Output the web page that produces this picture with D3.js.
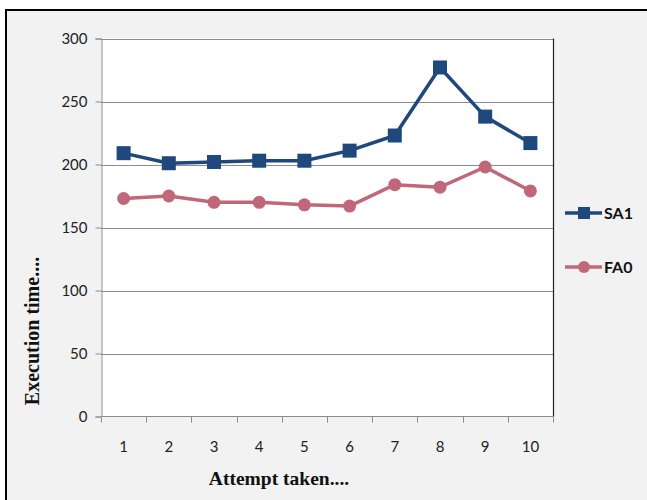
<!DOCTYPE html>
<html>
<head>
<meta charset="utf-8">
<script src="https://cdn.jsdelivr.net/npm/d3@7/dist/d3.min.js"></script>
<style>
  html, body { margin: 0; padding: 0; background: #ffffff; }
  svg { display: block; }
</style>
</head>
<body>
<svg id="chart" width="647" height="500"></svg>
<script>
// Attempt numbers and the execution time of each algorithm per attempt
const attempts = [1, 2, 3, 4, 5, 6, 7, 8, 9, 10];
const sa1 = [209, 201, 202, 203, 203, 211, 223, 277, 238, 217];
const fa0 = [173, 175, 170, 170, 168, 167, 184, 182, 198, 179];
const yTicks = [0, 50, 100, 150, 200, 250, 300];
const seriesNames = ["SA1", "FA0"];

const series = [
  { name: seriesNames[0], values: sa1, color: "#1f497d", marker: "square" },
  { name: seriesNames[1], values: fa0, color: "#c0687a", marker: "circle" }
];

const svg = d3.select("#chart");

// Chart frame
svg.append("rect")
  .attr("x", 6).attr("y", 10)
  .attr("width", 700).attr("height", 560)
  .attr("fill", "#f2f2f2")
  .attr("stroke", "#000").attr("stroke-width", 2);

const plot = { left: 101, right: 553, top: 38.5, bottom: 416.5 };

const x = d3.scaleBand()
  .domain(attempts)
  .range([plot.left, plot.right]);

const y = d3.scaleLinear()
  .domain([0, 300])
  .range([plot.bottom, plot.top]);

// Plot area background
svg.append("rect")
  .attr("x", plot.left).attr("y", plot.top)
  .attr("width", plot.right - plot.left)
  .attr("height", plot.bottom - plot.top)
  .attr("fill", "#ffffff");

// Horizontal gridlines
svg.append("g")
  .selectAll("line")
  .data(yTicks.filter(t => t > 0))
  .join("line")
  .attr("x1", plot.left).attr("x2", plot.right)
  .attr("y1", d => Math.round(y(d)) + 0.5)
  .attr("y2", d => Math.round(y(d)) + 0.5)
  .attr("stroke", "#8c8c8c").attr("stroke-width", 1);

// Plot area right border
svg.append("line")
  .attr("x1", plot.right + 0.5).attr("x2", plot.right + 0.5)
  .attr("y1", plot.top).attr("y2", plot.bottom)
  .attr("stroke", "#222").attr("stroke-width", 1.2);

// Y axis
const yAxis = svg.append("g")
  .attr("transform", `translate(${plot.left + 0.5},0)`)
  .call(d3.axisLeft(y).tickValues(yTicks).tickSize(6).tickPadding(8));
yAxis.select(".domain").attr("stroke", "#8c8c8c");
yAxis.selectAll(".tick line").attr("stroke", "#8c8c8c");
yAxis.selectAll(".tick text")
  .attr("font-family", "Lato, 'Open Sans', sans-serif")
  .attr("font-size", 15).attr("fill", "#222");

// X axis with ticks on category boundaries
const xAxisG = svg.append("g")
  .attr("transform", `translate(0,${plot.bottom})`);
xAxisG.append("line")
  .attr("x1", plot.left).attr("x2", plot.right)
  .attr("stroke", "#8c8c8c");
const boundaries = attempts.map(a => x(a)).concat([plot.right]);
xAxisG.selectAll("line.tk")
  .data(boundaries)
  .join("line").attr("class", "tk")
  .attr("x1", d => Math.round(d) + 0.5).attr("x2", d => Math.round(d) + 0.5)
  .attr("y1", 0).attr("y2", 6)
  .attr("stroke", "#8c8c8c");
xAxisG.selectAll("text")
  .data(attempts)
  .join("text")
  .attr("x", d => x(d) + x.bandwidth() / 2)
  .attr("y", 35)
  .attr("text-anchor", "middle")
  .attr("font-family", "Lato, 'Open Sans', sans-serif")
  .attr("font-size", 15).attr("fill", "#222")
  .text(d => d);

// Axis titles
svg.append("text")
  .attr("x", 279).attr("y", 485)
  .attr("text-anchor", "middle")
  .attr("font-family", "'Liberation Serif', 'Times New Roman', serif")
  .attr("font-weight", "bold").attr("font-size", 19.5)
  .attr("fill", "#111")
  .text("Attempt taken....");

svg.append("text")
  .attr("transform", "translate(39,331) rotate(-90)")
  .attr("text-anchor", "middle")
  .attr("font-family", "'Liberation Serif', 'Times New Roman', serif")
  .attr("font-weight", "bold").attr("font-size", 20)
  .attr("fill", "#111")
  .text("Execution time....");

// Series lines and markers
const line = d3.line()
  .x((d, i) => x(attempts[i]) + x.bandwidth() / 2)
  .y(d => y(d));

function drawMarker(g, type, color, cx, cy) {
  if (type === "square") {
    g.append("rect")
      .attr("x", cx - 7).attr("y", cy - 7)
      .attr("width", 14).attr("height", 14)
      .attr("fill", color);
  } else {
    g.append("circle")
      .attr("cx", cx).attr("cy", cy).attr("r", 6.5)
      .attr("fill", color);
  }
}

series.forEach(s => {
  const g = svg.append("g");
  g.append("path")
    .datum(s.values)
    .attr("d", line)
    .attr("fill", "none")
    .attr("stroke", s.color)
    .attr("stroke-width", 3.5)
    .attr("stroke-linejoin", "round");
  s.values.forEach((v, i) => {
    drawMarker(g, s.marker, s.color, x(attempts[i]) + x.bandwidth() / 2, y(v));
  });
});

// Legend
const legendY = [213, 267];
series.forEach((s, i) => {
  const g = svg.append("g");
  g.append("line")
    .attr("x1", 565).attr("x2", 602)
    .attr("y1", legendY[i]).attr("y2", legendY[i])
    .attr("stroke", s.color).attr("stroke-width", 3.5);
  if (s.marker === "square") {
    g.append("rect")
      .attr("x", 578).attr("y", legendY[i] - 6)
      .attr("width", 12).attr("height", 12)
      .attr("fill", s.color);
  } else {
    g.append("circle")
      .attr("cx", 584).attr("cy", legendY[i]).attr("r", 6)
      .attr("fill", s.color);
  }
  g.append("text")
    .attr("x", 604).attr("y", legendY[i] + 6)
    .attr("font-family", "Lato, 'Open Sans', sans-serif")
    .attr("font-weight", "bold").attr("font-size", 16)
    .attr("fill", "#111")
    .text(s.name);
});
</script>
</body>
</html>
